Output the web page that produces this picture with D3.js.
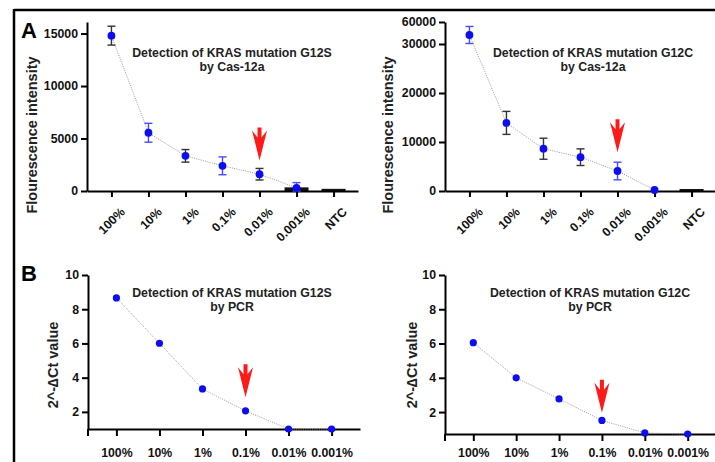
<!DOCTYPE html>
<html>
<head>
<meta charset="utf-8">
<script src="https://cdn.jsdelivr.net/npm/d3@7"></script>
<style>
  body { margin: 0; background: #fff; }
  svg { display: block; font-family: Arial, "Liberation Sans", sans-serif; }
</style>
</head>
<body>
<svg width="715" height="462"></svg>
<script>
// data
var casCats = ["100%", "10%", "1%", "0.1%", "0.01%", "0.001%", "NTC"];
var pcrCats = ["100%", "10%", "1%", "0.1%", "0.01%", "0.001%"];

var g12sCasMean = [14800, 5550, 3350, 2400, 1600, 300];
var g12sCasErr = [900, 900, 600, 850, 550, 500];
var g12sCasBar = [0, 0, 0, 0, 0, 250, 110];

var g12cCasMean = [42300, 13900, 8630, 6900, 4080, 200];
var g12cCasErr = [11600, 2350, 2150, 1700, 1800, 0];
var g12cCasBar = [0, 0, 0, 0, 0, 0, 200];

var g12sPcr = [8.66, 6.01, 3.34, 2.06, 1.0, 1.0];
var g12cPcr = [6.05, 4.0, 2.77, 1.51, 0.78, 0.72];

var casTicksS = [0, 5000, 10000, 15000];
var casTicksC = [0, 10000, 20000, 30000, 60000];
var pcrTicks = [2, 4, 6, 8, 10];

var blue = "#0d0df2";
var dark = "#333";
var lightBlue = "#4a4aff";

var svg = d3.select("svg");

// frame
svg.append("line").attr("x1", 14).attr("y1", 10).attr("x2", 715).attr("y2", 10)
    .style("stroke", "#000").style("stroke-width", 2.5);
svg.append("line").attr("x1", 14).attr("y1", 9).attr("x2", 14).attr("y2", 462)
    .style("stroke", "#000").style("stroke-width", 2.5);

svg.append("text").attr("x", 21).attr("y", 38).text("A")
    .style("font-size", "22px").style("font-weight", "bold");
svg.append("text").attr("x", 21).attr("y", 281).text("B")
    .style("font-size", "22px").style("font-weight", "bold");

var panels = [
    { cats: casCats, mean: g12sCasMean, err: g12sCasErr, bar: g12sCasBar,
      xr: [87, 358], yd: [0, 16100], yr: [191, 22], ticks: casTicksS,
      errColor: [dark, lightBlue, dark, lightBlue, dark, lightBlue],
      title: ["Detection of KRAS mutation G12S", "by Cas-12a"], tx: 232, ty: 57,
      ylab: "Flourescence intensity", lx: 32, ly: 135,
      rotate: true, arrow: "0.01%", gap: 8, r: 3.9 },
    { cats: casCats, mean: g12cCasMean, err: g12cCasErr, bar: g12cCasBar,
      xr: [445, 716], yd: [0, 30000, 60000], yr: [191, 44, 22], ticks: casTicksC,
      errColor: [lightBlue, dark, dark, dark, lightBlue, dark],
      title: ["Detection of KRAS mutation G12C", "by Cas-12a"], tx: 593, ty: 57,
      ylab: "Flourescence intensity", lx: 388, ly: 135,
      rotate: true, arrow: "0.01%", gap: 10, r: 3.9 },
    { cats: pcrCats, mean: g12sPcr,
      xr: [88, 360], yd: [1, 10], yr: [429, 275], ticks: pcrTicks,
      title: ["Detection of KRAS mutation G12S", "by PCR"], tx: 232, ty: 297,
      ylab: "2^-\u2206Ct value", lx: 53, ly: 365,
      rotate: false, labY: 457, arrow: "0.1%", gap: 10, r: 3.6 },
    { cats: pcrCats, mean: g12cPcr,
      xr: [445, 716], yd: [0.72, 10], yr: [434, 275], ticks: pcrTicks,
      title: ["Detection of KRAS mutation G12C", "by PCR"], tx: 590, ty: 297,
      ylab: "2^-\u2206Ct value", lx: 412, ly: 365,
      rotate: false, labY: 457, arrow: "0.1%", gap: 4, r: 3.6 }
];

panels.forEach(drawPanel);

function drawPanel(p) {
    var g = svg.append("g");
    var x = d3.scalePoint().domain(p.cats).range(p.xr).padding(0.66);
    var y = d3.scaleLinear().domain(p.yd).range(p.yr);
    var y0 = p.yr[0];

    // small bars (0.001% / NTC)
    if (p.bar) {
        g.selectAll(".bar")
            .data(p.cats.map(function (c, i) { return { c: c, v: p.bar[i] }; }).filter(function (d) { return d.v > 0; }))
            .enter().append("rect")
            .attr("x", function (d) { return x(d.c) - 12; })
            .attr("width", 24)
            .attr("y", function (d) { return y(d.v) - 1; })
            .attr("height", function (d) { return y0 - y(d.v) + 1; })
            .attr("fill", "#111");
    }

    // y axis
    var ya = g.append("g")
        .attr("transform", "translate(" + p.xr[0] + ",0)")
        .call(d3.axisLeft(y).tickValues(p.ticks).tickSize(6).tickSizeOuter(0).tickPadding(3).tickFormat(d3.format("d")));
    // x axis
    var xa = g.append("g")
        .attr("transform", "translate(0," + y0 + ")")
        .call(d3.axisBottom(x).tickSize(p.rotate ? 6 : 7).tickSizeOuter(0));

    [ya, xa].forEach(function (a) {
        a.select(".domain").style("stroke", "#000").style("stroke-width", 2);
        a.selectAll(".tick line").style("stroke", "#000").style("stroke-width", 2);
        a.selectAll("text").style("font-size", "12.3px").style("font-weight", "bold")
            .style("fill", "#111").style("font-family", "Arial, 'Liberation Sans', sans-serif");
    });
    if (!p.rotate) {
        // y axis runs past the x axis a little
        g.append("line").attr("x1", p.xr[0]).attr("x2", p.xr[0])
            .attr("y1", y0).attr("y2", y0 + 7)
            .style("stroke", "#000").style("stroke-width", 2);
    }

    if (p.rotate) {
        xa.selectAll(".tick text")
            .attr("text-anchor", "end")
            .attr("dy", "0.35em")
            .attr("transform", "translate(5,13) rotate(-45)")
            .attr("y", 8).attr("x", 0);
    } else {
        xa.selectAll(".tick text").attr("y", p.labY - y0).attr("dy", 0);
    }

    // dotted connecting line
    var pts = p.mean.map(function (v, i) { return [x(p.cats[i]), y(v)]; });
    g.append("path")
        .attr("d", d3.line()(pts))
        .attr("fill", "none")
        .style("stroke", "#9a9a9a")
        .style("stroke-width", 1)
        .style("stroke-dasharray", "1,1.3");

    // error bars
    if (p.err) {
        p.mean.forEach(function (v, i) {
            var e = p.err[i];
            if (!e) return;
            var cx = x(p.cats[i]);
            var col = p.errColor[i];
            var t = y(v + e), b = y(Math.max(v - e, 0));
            g.append("line").attr("x1", cx).attr("x2", cx).attr("y1", t).attr("y2", b)
                .style("stroke", col).style("stroke-width", 1.4);
            [t, b].forEach(function (yy) {
                g.append("line").attr("x1", cx - 4).attr("x2", cx + 4).attr("y1", yy).attr("y2", yy)
                    .style("stroke", col).style("stroke-width", 1.4);
            });
        });
    }

    // points
    g.selectAll(".pt")
        .data(p.mean)
        .enter().append("circle")
        .attr("cx", function (d, i) { return x(p.cats[i]); })
        .attr("cy", function (d) { return y(d); })
        .attr("r", p.r)
        .attr("fill", blue);

    // red arrow above the detection limit
    var ai = p.cats.indexOf(p.arrow);
    var topVal = p.mean[ai] + (p.err ? p.err[ai] : 0);
    var tip = y(topVal) - (p.err ? 0 : p.r) - p.gap;
    g.append("path")
        .attr("d", "M-2,0 H2 V10 L7.5,3 L0,33 L-7.5,3 L-2,10 Z")
        .attr("transform", "translate(" + x(p.arrow) + "," + (tip - 33) + ")")
        .attr("fill", "#ff1a1a");

    // title
    g.append("text").attr("x", p.tx).attr("y", p.ty).attr("text-anchor", "middle")
        .text(p.title[0]).style("font-size", "12.3px").style("font-weight", "bold").style("fill", "#222");
    g.append("text").attr("x", p.tx).attr("y", p.ty + 14).attr("text-anchor", "middle")
        .text(p.title[1]).style("font-size", "12.3px").style("font-weight", "bold").style("fill", "#222");

    // y label
    g.append("text")
        .attr("transform", "translate(" + p.lx + "," + p.ly + ") rotate(-90)")
        .attr("text-anchor", "middle").attr("dy", "0.35em")
        .text(p.ylab).style("font-size", "14.5px").style("font-weight", "bold").style("fill", "#222");
}
</script>
</body>
</html>
